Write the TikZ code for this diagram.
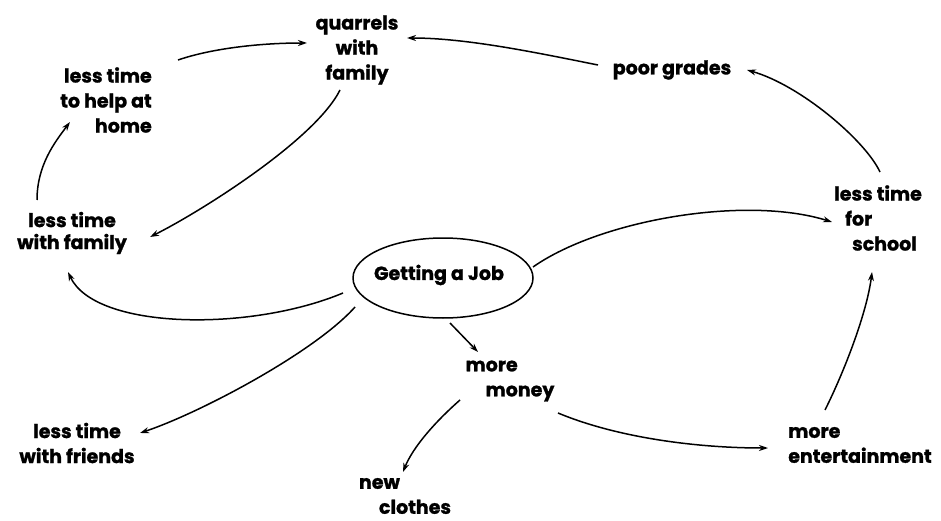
\documentclass[tikz,border=0pt]{standalone}
\usepackage{fontspec}
\setmainfont{Poppins}[BoldFeatures={FakeBold=1.2}]
\usetikzlibrary{arrows.meta,shapes.geometric}
\tikzset{
  lbl/.style={font=\bfseries\fontsize{19}{25}\selectfont, inner sep=0pt},
  arr/.style={line width=1.5pt, -{Stealth[length=9pt,width=6pt]}},
}
\begin{document}
\begin{tikzpicture}[x=1pt,y=-1pt]
\useasboundingbox (0,0) rectangle (941,521);
\node[lbl, align=center] (quar) at (357,50) {quarrels\\with\\family};
\node[lbl, align=right] (help) at (106,100) {less time\\to help at\\home};
\node[lbl, align=center, font=\bfseries\fontsize{19}{22}\selectfont] (famly) at (72,233) {less time\\with family};
\node[draw, ellipse, line width=1.5pt, minimum width=180pt, minimum height=80pt, inner sep=0pt] (job) at (443,278) {};
\node[lbl] (jobtext) at (439,275) {Getting a Job};
\node[lbl] (poor) at (672,70) {poor grades};
\node[lbl, align=left] (school) at (878,218) {less time\\\hspace{11pt}for\\\hspace{18pt}school};
\node[lbl, align=left] (money) at (510,381) {more\\\hspace{20pt}money};
\node[lbl, align=left] (ent) at (860,445) {more\\entertainment};
\node[lbl, align=center] (friends) at (77,443) {less time\\with friends};
\node[lbl, align=left] (clothes) at (405,496) {new\\\hspace{20pt}clothes};
% connectors
\draw[arr] ([shift={(72,-40)}]help.center) .. controls +(35,-12) and +(-45,0) .. ([shift={(-50,-7)}]quar.center);
\draw[arr] ([shift={(-74,-5)}]poor.center) .. controls +(-60,-12) and +(60,0) .. ([shift={(50,-12)}]quar.center);
\draw[arr] ([shift={(-17,40)}]quar.center) .. controls +(-25,50) and +(50,-25) .. ([shift={(78,4)}]famly.center);
\draw[arr] ([shift={(-35,-33)}]famly.center) .. controls +(0,-35) and +(-15,20) .. ([shift={(-36,22)}]help.center);
\draw[arr] ([shift={(-100,15)}]job.center) .. controls +(-93,39) and +(27,58) .. ([shift={(-4,39)}]famly.center);
\draw[arr] ([shift={(-88,29)}]job.center) .. controls +(-40,45) and +(60,-20) .. ([shift={(63,-10)}]friends.center);
\draw[arr] ([shift={(90,-11)}]job.center) .. controls +(67,-47) and +(-87,-27) .. ([shift={(-46,4)}]school.center);
\draw[arr] ([shift={(2,-46)}]school.center) .. controls +(-15,-32) and +(53,15) .. ([shift={(75,0)}]poor.center);
\draw[arr] ([shift={(7,45)}]job.center) -- ([shift={(-32,-29)}]money.center);
\draw[arr] ([shift={(-50,19)}]money.center) .. controls +(-25,22) and +(10,-25) .. ([shift={(-2,-24)}]clothes.center);
\draw[arr] ([shift={(48,32)}]money.center) .. controls +(60,25) and +(-70,0) .. ([shift={(-92,3)}]ent.center);
\draw[arr] ([shift={(-35,-35)}]ent.center) .. controls +(20,-40) and +(-5,40) .. ([shift={(-6,54)}]school.center);
\end{tikzpicture}
\end{document}
